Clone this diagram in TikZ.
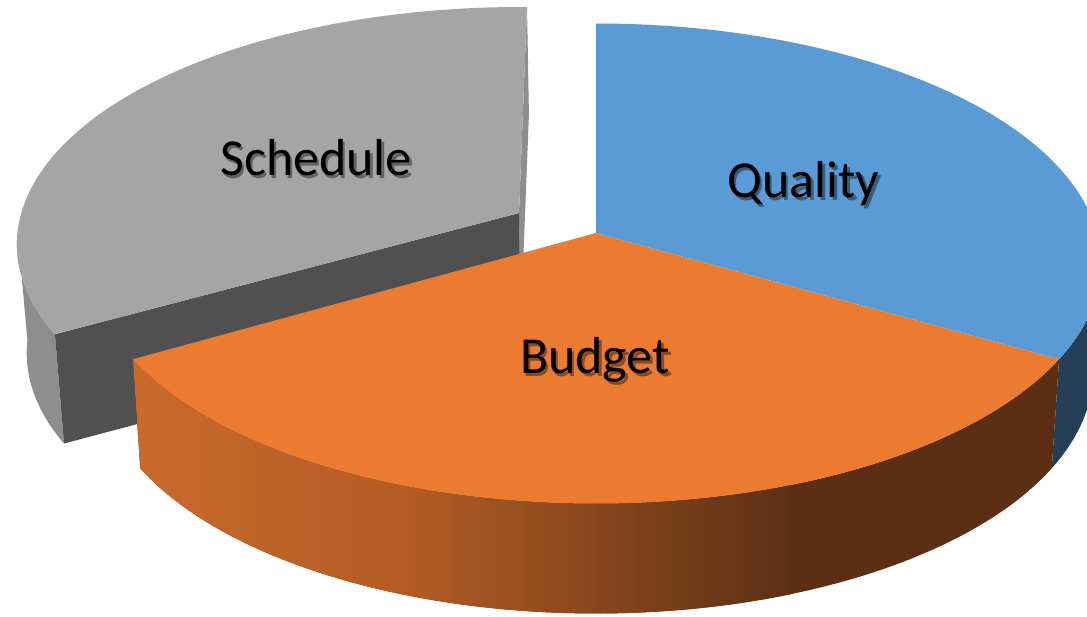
\documentclass[tikz,border=0pt]{standalone}
\usepackage{fontspec}
\newfontfamily\lblfont{Carlito}
\definecolor{schedTop}{HTML}{A5A5A5}
\definecolor{schedSide}{HTML}{8E8E8E}
\definecolor{schedCut}{HTML}{505050}
\definecolor{qualTop}{HTML}{5B9BD5}
\definecolor{qualSide}{HTML}{243F57}
\definecolor{budTop}{HTML}{EA7B31}
\definecolor{budA}{HTML}{CA6B2B}
\definecolor{budB}{HTML}{B45C25}
\definecolor{budC}{HTML}{86461C}
\definecolor{budD}{HTML}{5C2F14}
\begin{document}
\begin{tikzpicture}[x=1pt,y=-1pt,
  declare function={
    ex(\ang)=596+505*cos(\ang);
    ey(\ang)=263.5-240*sin(\ang);
    bx(\ang)=596+497*cos(\ang);
    by(\ang)=372-241.5*sin(\ang);
    sx(\pa,\pb)=0.9918*\pa-0.0382*\pb-63.2;
    sy(\pa,\pb)=0.00626*\pa+0.9833*\pb-19.8;
  },
  schedtopface/.style={fill=schedTop},
  schedsideface/.style={fill=schedSide},
  schedcutface/.style={fill=schedCut},
  qualtopface/.style={fill=qualTop},
  qualsideface/.style={fill=qualSide},
  budtopface/.style={fill=budTop},
  lbl/.style={font=\lblfont\fontsize{52}{60}\selectfont, inner sep=0pt, anchor=base, text=black},
  lblshadow/.style={lbl, text=black, opacity=#1},
]
\path[use as bounding box] (0,0) rectangle (1087,617);
\fill[white] (0,0) rectangle (1087,617);
\clip (0,0) rectangle (1087,617);

% key points
\coordinate (SA)  at ({sx(596,233)},{sy(596,233)});
\coordinate (ST)  at ({sx(596,23.5)},{sy(596,23.5)});
\coordinate (SC)  at ({sx(ex(203.5),ey(203.5))},{sy(ex(203.5),ey(203.5))});
\coordinate (SCB) at ({sx(bx(203.5),by(203.5))+6},{sy(bx(203.5),by(203.5))+2});
\coordinate (SAB) at ({sx(596,341.5)+6},{sy(596,341.5)+2});
\coordinate (STB) at ({sx(596,130.5)+6},{sy(596,130.5)+2});
\coordinate (QA)  at (596,233);

% ---- Schedule (exploded) ----
\fill[schedsideface] plot[domain=178:203.5, samples=30] ({sx(ex(\x),ey(\x))},{sy(ex(\x),ey(\x))})
  -- plot[domain=203.5:178, samples=30] ({sx(bx(\x),by(\x))+6},{sy(bx(\x),by(\x))+2}) -- cycle;
\fill[schedsideface] (ST) -- (STB) -- (SAB) -- (SA) -- cycle;
\fill[schedcutface] (SA) -- (SC) -- (SCB) -- (SAB) -- cycle;
\fill[schedtopface] (SA) -- plot[domain=203.5:90, samples=80] ({sx(ex(\x),ey(\x))},{sy(ex(\x),ey(\x))}) -- cycle;

% ---- Quality ----
\fill[qualsideface] plot[domain=-23.5:2, samples=30] ({ex(\x)},{ey(\x)})
  -- plot[domain=2:-23.5, samples=30] ({bx(\x)},{by(\x)}) -- cycle;
\fill[qualtopface] (QA) -- plot[domain=90:-23.5, samples=90] ({ex(\x)},{ey(\x)}) -- cycle;

% ---- Budget ----
\begin{scope}
  \clip plot[domain=203.5:336.5, samples=90] ({ex(\x)},{ey(\x)})
    -- plot[domain=336.5:203.5, samples=90] ({bx(\x)},{by(\x)}) -- cycle;
  \fill[budD] (120,330) rectangle (1090,620);
  \shade[left color=budA, right color=budB] (120,330) rectangle (401,620);
  \shade[left color=budB, right color=budC] (400,330) rectangle (601,620);
  \shade[left color=budC, right color=budD] (600,330) rectangle (791,620);
\end{scope}
\fill[budtopface] (QA) -- plot[domain=203.5:336.5, samples=90] ({ex(\x)},{ey(\x)}) -- cycle;

% ---- Labels (with soft drop shadow) ----
\node[lblshadow=0.4] (schedsh) at (318.5,178.5) {Schedule};
\node[lbl] (schedlbl) at (316,176) {Schedule};
\node[lblshadow=0.4] (qualsh) at (806,200.5) {Quality};
\node[lbl] (quallbl) at (803.5,198) {Quality};
\node[lblshadow=0.4] (budsh) at (597.5,376.5) {Budget};
\node[lbl] (budlbl) at (595,374) {Budget};
\end{tikzpicture}
\end{document}
